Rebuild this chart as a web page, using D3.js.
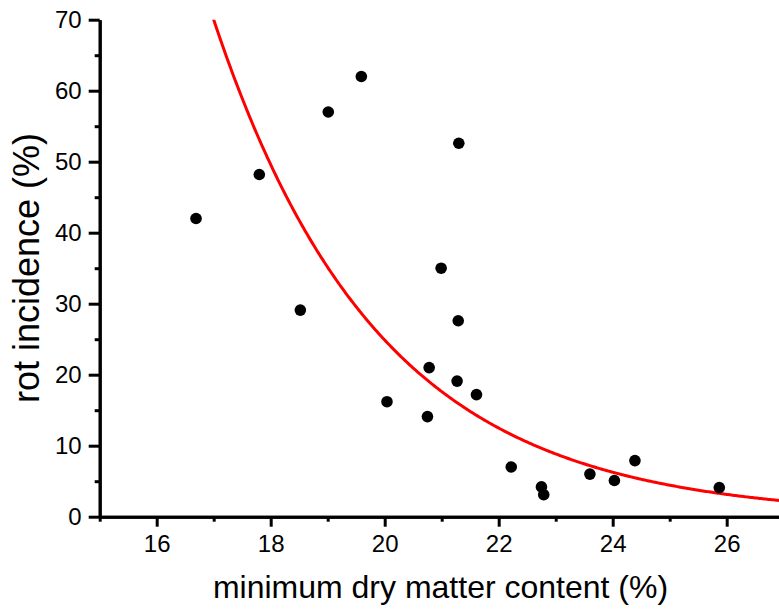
<!DOCTYPE html>
<html>
<head>
<meta charset="utf-8">
<script src="https://cdn.jsdelivr.net/npm/d3@7"></script>
<style>
  html, body { margin: 0; padding: 0; background: #fff; }
  svg { display: block; }
  text { font-family: "Liberation Sans", Arial, sans-serif; fill: #000; }
</style>
</head>
<body>
<svg id="chart" width="779" height="609"></svg>
<script>
// Data
const dryMatter = [16.69, 17.80, 18.52, 19.01, 19.59, 21.30, 21.29, 20.78, 21.27, 21.61,
                   20.04, 20.75, 22.22, 22.75, 22.79, 20.99, 23.60, 24.03, 24.39, 25.87];
const rotIncidence = [42.0, 48.2, 29.1, 57.0, 62.0, 52.6, 27.6, 21.0, 19.1, 17.2,
                      16.2, 14.1, 7.0, 4.2, 3.1, 35.0, 6.0, 5.1, 7.9, 4.1];
// exponential fit: y = A * exp(-(x - x0) / t)
const fitX0 = 17.0, fitA = 70.0, fitT = 2.9;
const xTicksMajor = [16, 18, 20, 22, 24, 26];
const xTicksMinor = [15, 17, 19, 21, 23, 25, 27];
const yTicksMajor = [0, 10, 20, 30, 40, 50, 60, 70];
const yTicksMinor = [5, 15, 25, 35, 45, 55, 65];
const xTitle = "minimum dry matter content (%)";
const yTitle = "rot incidence (%)";

const svg = d3.select("#chart");
const x = d3.scaleLinear().domain([15, 27]).range([99.7, 783.7]);
const y = d3.scaleLinear().domain([0, 70]).range([516.7, 19.7]);

svg.append("defs").append("clipPath").attr("id", "clip")
  .append("rect").attr("x", x(15)).attr("y", y(70))
  .attr("width", x(27) - x(15)).attr("height", y(0) - y(70));

// fit curve
const fitXs = d3.range(0, 401).map(i => 16.5 + i * (27 - 16.5) / 400);
const line = d3.line().x(d => x(d)).y(d => y(fitA * Math.exp(-(d - fitX0) / fitT)));
svg.append("path").datum(fitXs)
  .attr("clip-path", "url(#clip)")
  .attr("d", line).attr("fill", "none").attr("stroke", "#ff0000").attr("stroke-width", 3);

// points
svg.append("g").selectAll("circle").data(dryMatter).join("circle")
  .attr("cx", d => x(d)).attr("cy", (d, i) => y(rotIncidence[i]))
  .attr("r", 5.8).attr("fill", "#000");

// axes
function styleAxis(g) {
  g.selectAll(".domain").attr("stroke", "#000").attr("stroke-width", 3);
  g.selectAll(".tick line").attr("stroke", "#000").attr("stroke-width", 3);
}
const gx = svg.append("g").attr("transform", `translate(0,${y(0)})`)
  .call(d3.axisBottom(x).tickValues(xTicksMajor).tickSize(10).tickSizeOuter(0).tickPadding(8).tickFormat(d3.format("d")));
styleAxis(gx);
gx.selectAll("text").attr("font-size", 24).attr("font-family", "Liberation Sans, Arial, sans-serif").attr("fill", "#000");
const gxm = svg.append("g").attr("transform", `translate(0,${y(0)})`)
  .call(d3.axisBottom(x).tickValues(xTicksMinor).tickSize(5).tickSizeOuter(0).tickFormat(""));
styleAxis(gxm);

const gy = svg.append("g").attr("transform", `translate(${x(15)},0)`)
  .call(d3.axisLeft(y).tickValues(yTicksMajor).tickSize(11).tickSizeOuter(0).tickPadding(7).tickFormat(d3.format("d")));
styleAxis(gy);
gy.selectAll("text").attr("font-size", 24).attr("font-family", "Liberation Sans, Arial, sans-serif").attr("fill", "#000");
const gym = svg.append("g").attr("transform", `translate(${x(15)},0)`)
  .call(d3.axisLeft(y).tickValues(yTicksMinor).tickSize(5).tickSizeOuter(0).tickFormat(""));
styleAxis(gym);

// titles
svg.append("text").attr("x", 440.5).attr("y", 598).attr("text-anchor", "middle")
  .attr("font-size", 32).text(xTitle);
svg.append("text").attr("transform", `translate(39,${268}) rotate(-90)`)
  .attr("text-anchor", "middle").attr("font-size", 36).text(yTitle);
</script>
</body>
</html>
